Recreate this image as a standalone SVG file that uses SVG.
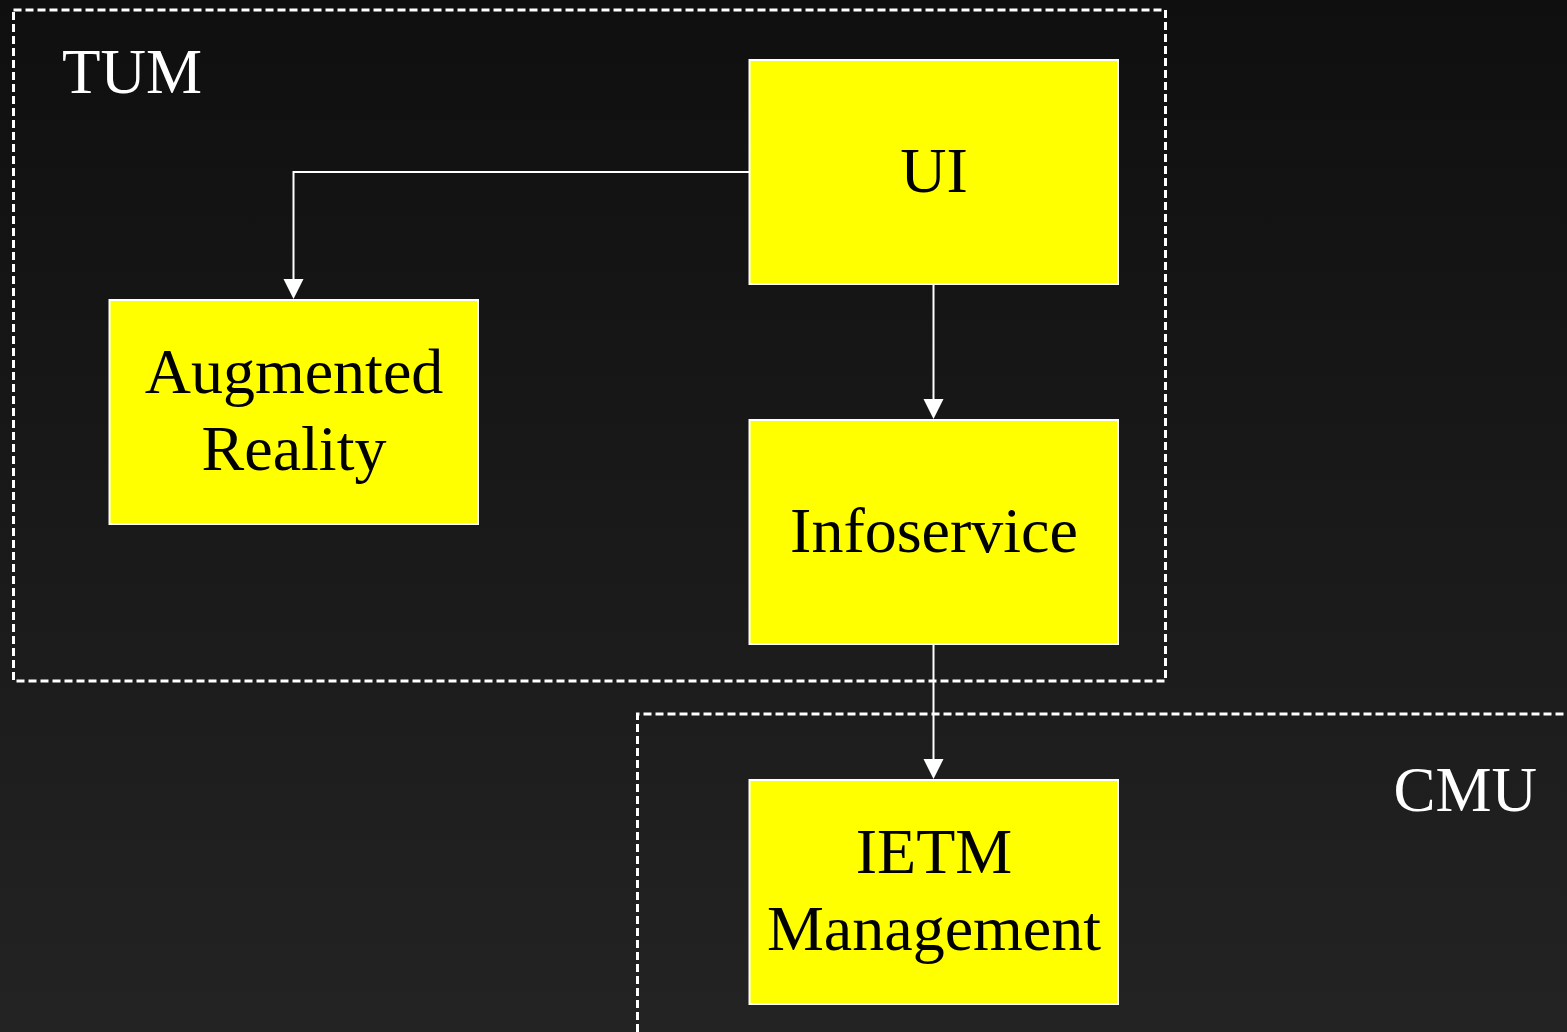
<svg xmlns="http://www.w3.org/2000/svg" width="1567" height="1032" viewBox="0 0 1567 1032">
<defs>
<linearGradient id="bg" x1="0" y1="0" x2="0" y2="1">
<stop offset="0" stop-color="#0f0f0f"/>
<stop offset="1" stop-color="#232323"/>
</linearGradient>
<style>
.grp{fill:none;stroke:#ffffff;stroke-width:3;stroke-dasharray:8,4}
.box{fill:#ffff00;stroke:#ffffff;stroke-width:2}
.lbl{font-family:"Liberation Serif","Times New Roman",serif;font-size:64px;fill:#000000;text-anchor:middle}
.glbl{font-family:"Liberation Serif","Times New Roman",serif;font-size:63px;fill:#ffffff}
.conn{fill:none;stroke:#ffffff;stroke-width:2}
.head{fill:#ffffff}
</style>
</defs>
<rect x="0" y="0" width="1567" height="1032" fill="url(#bg)"/>
<g id="group-tum">
<rect class="grp" x="13.5" y="10" width="1152" height="671"/>
<text class="glbl" x="62" y="93">TUM</text>
</g>
<g id="group-cmu">
<path class="grp" d="M637.5,1032 L637.5,714 L1567,714"/>
<text class="glbl" x="1537" y="811" text-anchor="end">CMU</text>
</g>
<g id="connectors">
<path class="conn" d="M749.5,172 L293.5,172 L293.5,280"/>
<path class="head" d="M283.5,279 L303.5,279 L293.5,299 Z"/>
<path class="conn" d="M933.5,284 L933.5,400"/>
<path class="head" d="M923.5,399 L943.5,399 L933.5,419 Z"/>
<path class="conn" d="M933.5,644 L933.5,760"/>
<path class="head" d="M923.5,759 L943.5,759 L933.5,779 Z"/>
</g>
<g id="node-ui">
<rect class="box" x="749.5" y="60" width="368.5" height="224"/>
<text class="lbl" x="934" y="192">UI</text>
</g>
<g id="node-ar">
<rect class="box" x="109.5" y="300" width="368.5" height="224"/>
<text class="lbl" x="294" y="393">Augmented</text>
<text class="lbl" x="294" y="470">Reality</text>
</g>
<g id="node-info">
<rect class="box" x="749.5" y="420" width="368.5" height="224"/>
<text class="lbl" x="934" y="552">Infoservice</text>
</g>
<g id="node-ietm">
<rect class="box" x="749.5" y="780" width="368.5" height="224"/>
<text class="lbl" x="934" y="873">IETM</text>
<text class="lbl" x="934" y="950">Management</text>
</g>
</svg>
